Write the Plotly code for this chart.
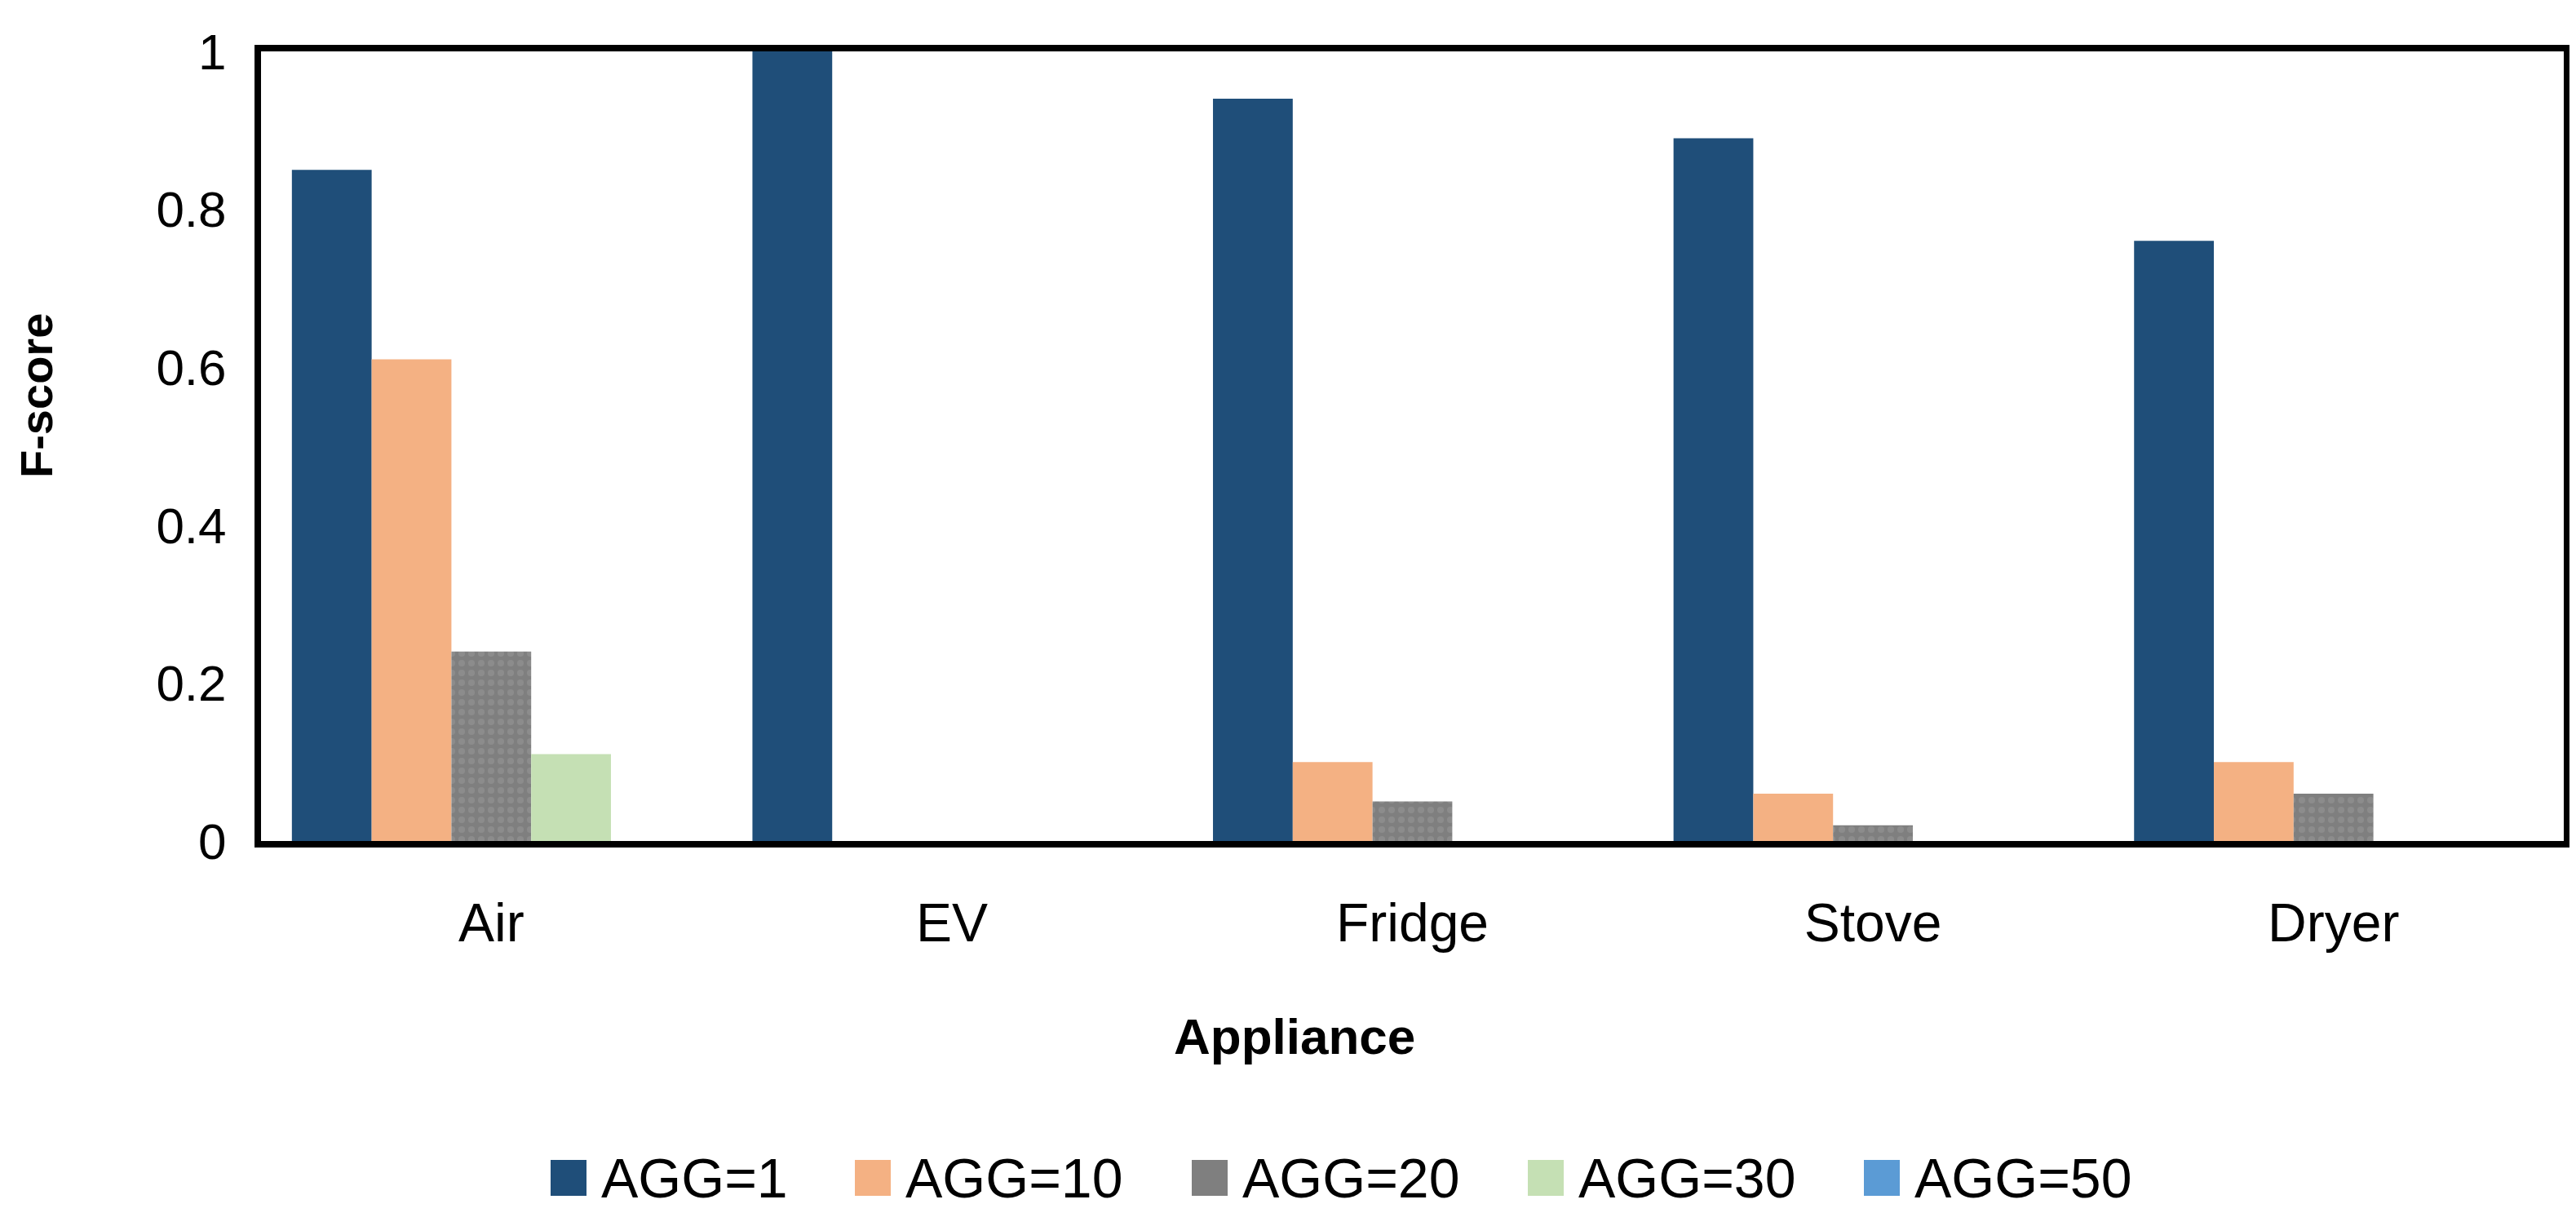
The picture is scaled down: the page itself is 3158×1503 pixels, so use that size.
import plotly.graph_objects as go

categories = ["Air", "EV", "Fridge", "Stove", "Dryer"]
series_names = ["AGG=1", "AGG=10", "AGG=20", "AGG=30", "AGG=50"]
agg1 = [0.85, 1.00, 0.94, 0.89, 0.76]
agg10 = [0.61, 0.0, 0.10, 0.06, 0.10]
agg20 = [0.24, 0.0, 0.05, 0.02, 0.06]
agg30 = [0.11, 0.0, 0.0, 0.0, 0.0]
agg50 = [0.0, 0.0, 0.0, 0.0, 0.0]
y_tickvals = [0, 0.2, 0.4, 0.6, 0.8, 1]
y_ticktext = ["0", "0.2", "0.4", "0.6", "0.8", "1"]

colors = ["#1F4E79", "#F4B183", "#7F7F7F", "#C5E0B4", "#5B9BD5"]
values = [agg1, agg10, agg20, agg30, agg50]

FONT = "Liberation Sans, Arial, sans-serif"

W, H = 3158, 1503
ML, MR, MT, MB = 312, 23, 55, 480
PW, PH = W - ML - MR, H - MT - MB


def px_x(px):
    return (px - ML) / PW


def px_y(py):
    return (H - MB - py) / PH


fig = go.Figure()
for name, vals, col in zip(series_names, values, colors):
    marker = dict(color=col, line=dict(width=0))
    if name == "AGG=20":
        marker["pattern"] = dict(shape=".", bgcolor="#7F7F7F", fgcolor="#9A9A9A",
                                 size=12, solidity=0.35, fillmode="overlay")
    fig.add_trace(go.Bar(x=categories, y=vals, name=name, marker=marker,
                         showlegend=False))

fig.update_layout(
    width=W, height=H,
    barmode="group", bargap=0.134, bargroupgap=0,
    plot_bgcolor="white", paper_bgcolor="white",
    margin=dict(l=ML, r=MR, t=MT, b=MB),
    font=dict(family=FONT, size=64, color="black"),
    showlegend=False,
)
fig.update_xaxes(showline=True, linewidth=8, linecolor="black", mirror=True,
                 showgrid=False, ticks="", ticklabelstandoff=36,
                 tickfont=dict(family=FONT, size=66, color="black"))
fig.update_yaxes(showline=True, linewidth=8, linecolor="black", mirror=True,
                 showgrid=False, zeroline=False, range=[0, 1],
                 tickvals=y_tickvals, ticktext=y_ticktext, ticks="",
                 ticklabelstandoff=22,
                 tickfont=dict(family=FONT, size=62, color="black"))

fig.add_annotation(text="<b>F-score</b>", textangle=-90, xref="paper", yref="paper",
                   x=px_x(36), y=px_y(477), xanchor="center", yanchor="middle",
                   showarrow=False, font=dict(family=FONT, size=56, color="black"))
fig.add_annotation(text="<b>Appliance</b>", xref="paper", yref="paper",
                   x=px_x(1579), y=px_y(1262), xanchor="center", yanchor="middle",
                   showarrow=False, font=dict(family=FONT, size=62, color="black"))

# legend (drawn manually so the swatches match the reference size)
legend_left = [667, 1040, 1453, 1865, 2277]
sw, sh, legend_cy = 44, 44, 1436
for name, col, lx in zip(series_names, colors, legend_left):
    fig.add_shape(type="rect", xref="paper", yref="paper",
                  x0=px_x(lx), x1=px_x(lx + sw),
                  y0=px_y(legend_cy + sh / 2), y1=px_y(legend_cy - sh / 2),
                  fillcolor=col, line=dict(width=0))
    fig.add_annotation(text=name, xref="paper", yref="paper",
                       x=px_x(lx + 60), y=px_y(legend_cy), xanchor="left",
                       yanchor="middle", showarrow=False,
                       font=dict(family=FONT, size=68, color="black"))

fig.write_html("out.html")
